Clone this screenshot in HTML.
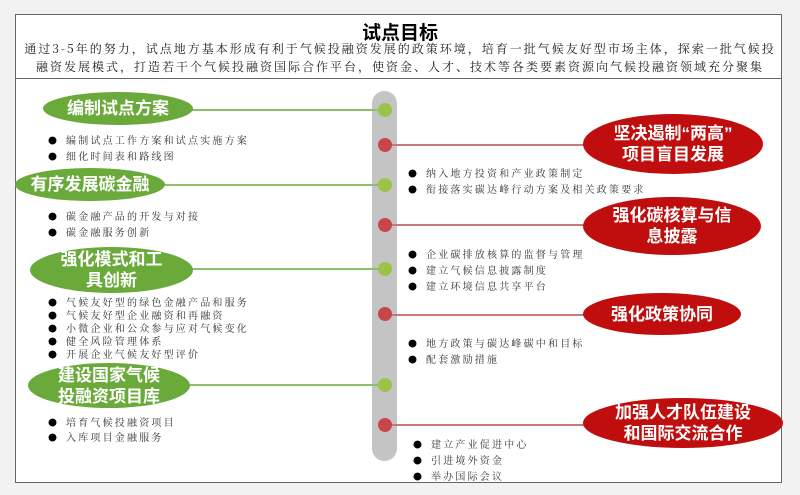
<!DOCTYPE html>
<html><head><meta charset="utf-8"><style>
body{margin:0;width:800px;height:495px;background:#f2f2f2;position:relative;overflow:hidden;font-family:"Liberation Sans","Noto Sans CJK SC",sans-serif}
.box{position:absolute;left:15px;top:14px;width:767px;height:469px;border:1.5px solid #666;background:#fff;box-sizing:border-box}
.hd{position:absolute;left:15px;top:78px;width:767px;border-top:1.5px solid #666}
.title{position:absolute;left:0;width:800px;top:18px;text-align:center;font-size:19px;font-weight:bold}
.sub{position:absolute;left:0;width:800px;top:40px;text-align:center;font-family:"Noto Serif CJK SC",serif;font-size:12px;letter-spacing:2px;line-height:18px;color:#222;white-space:nowrap}
.bar{position:absolute;left:372px;top:91px;width:25px;height:370px;background:#c4c4c4;border-radius:13px}
.dot{position:absolute;width:14px;height:14px;border-radius:50%;left:378px}
.g{background:#9bc34a}.r{background:#c8464a}
.ln{position:absolute;height:2px}
.el{position:absolute;border-radius:50%;color:#fff;font-weight:bold;display:flex;align-items:center;justify-content:center;text-align:center;line-height:21px}
.ge{background:#6aaa3a;font-size:17px}
.re{background:#c00d0d;font-size:17px}
.ul{position:absolute;font-family:"Noto Serif CJK SC",serif;font-size:10px;letter-spacing:2.2px;line-height:13px;color:#333;margin:0;padding:0;list-style:none;white-space:nowrap}
.ul li:before{content:"●";color:#000;font-size:9px;letter-spacing:0;display:inline-block;width:18px}
</style></head><body>
<div class="box"></div><div class="hd"></div>
<div class="title">试点目标</div>
<div class="sub">通过3-5年的努力，试点地方基本形成有利于气候投融资发展的政策环境，培育一批气候友好型市场主体，探索一批气候投<br>融资发展模式，打造若干个气候投融资国际合作平台，使资金、人才、技术等各类要素资源向气候投融资领域充分聚集</div>
<div class="bar"></div>
<div class="ln" style="left:190px;top:109px;width:190px;background:#8cbf6a"></div>
<div class="ln" style="left:163px;top:184px;width:217px;background:#8cbf6a"></div>
<div class="ln" style="left:190px;top:268px;width:190px;background:#8cbf6a"></div>
<div class="ln" style="left:188px;top:384px;width:192px;background:#8cbf6a"></div>
<div class="ln" style="left:390px;top:144px;width:200px;background:#c87a7a"></div>
<div class="ln" style="left:390px;top:224px;width:200px;background:#c87a7a"></div>
<div class="ln" style="left:390px;top:314px;width:200px;background:#c87a7a"></div>
<div class="ln" style="left:390px;top:424px;width:200px;background:#c87a7a"></div>
<div class="dot g" style="top:103px"></div>
<div class="dot r" style="top:138px"></div>
<div class="dot g" style="top:178px"></div>
<div class="dot r" style="top:218px"></div>
<div class="dot g" style="top:262px"></div>
<div class="dot r" style="top:307px"></div>
<div class="dot g" style="top:378px"></div>
<div class="dot r" style="top:418px"></div>
<div class="el ge" style="left:43px;top:92px;width:150px;height:33px">编制试点方案</div>
<div class="el ge" style="left:15px;top:168px;width:150px;height:33px">有序发展碳金融</div>
<div class="el ge" style="left:30px;top:247px;width:163px;height:46px">强化模式和工<br>具创新</div>
<div class="el ge" style="left:28px;top:363px;width:162px;height:45px">建设国家气候<br>投融资项目库</div>
<div class="el re" style="left:583px;top:114px;width:180px;height:60px">坚决遏制“两高”<br>项目盲目发展</div>
<div class="el re" style="left:583px;top:197px;width:178px;height:58px">强化碳核算与信<br>息披露</div>
<div class="el re" style="left:583px;top:293px;width:158px;height:42px">强化政策协同</div>
<div class="el re" style="left:583px;top:398px;width:200px;height:50px">加强人才队伍建设<br>和国际交流合作</div>
<ul class="ul" style="left:48px;top:132px;line-height:15px"><li>编制试点工作方案和试点实施方案</li><li>细化时间表和路线图</li></ul>
<ul class="ul" style="left:48px;top:208px;line-height:15px"><li>碳金融产品的开发与对接</li><li>碳金融服务创新</li></ul>
<ul class="ul" style="left:48px;top:296px;line-height:12px"><li>气候友好型的绿色金融产品和服务</li><li>气候友好型企业融资和再融资</li><li>小微企业和公众参与应对气候变化</li><li>健全风险管理体系</li><li>开展企业气候友好型评价</li></ul>
<ul class="ul" style="left:48px;top:415px;line-height:14px"><li>培育气候投融资项目</li><li>入库项目金融服务</li></ul>
<ul class="ul" style="left:408px;top:165px;line-height:15px"><li>纳入地方投资和产业政策制定</li><li>衔接落实碳达峰行动方案及相关政策要求</li></ul>
<ul class="ul" style="left:408px;top:246px;line-height:15px"><li>企业碳排放核算的监督与管理</li><li>建立气候信息披露制度</li><li>建立环境信息共享平台</li></ul>
<ul class="ul" style="left:408px;top:335px;line-height:15px"><li>地方政策与碳达峰碳中和目标</li><li>配套激励措施</li></ul>
<ul class="ul" style="left:413px;top:436px;line-height:15px"><li>建立产业促进中心</li><li>引进境外资金</li><li>举办国际会议</li></ul>
</body></html>
